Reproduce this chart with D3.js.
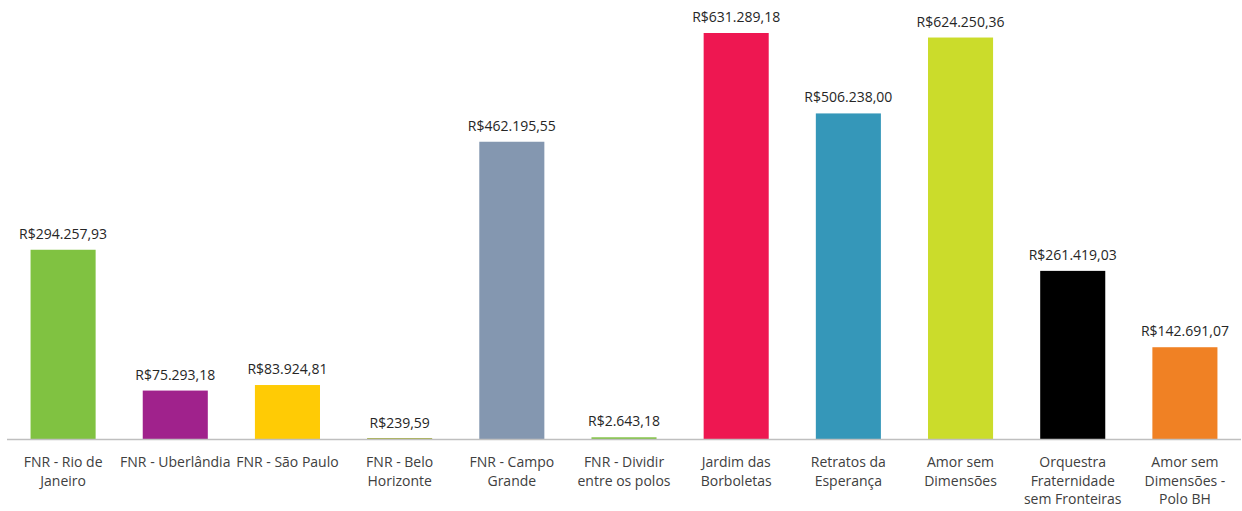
<!DOCTYPE html>
<meta charset="utf-8">
<style>
body { margin: 0; background: #fff; }
svg text { font-family: "Open Sans", "Noto Sans", sans-serif; }
</style>
<svg width="1242" height="511"></svg>
<script src="https://d3js.org/d3.v7.min.js"></script>
<script>
// categorias (quebras de linha como no original)
var categorias = [
  ["FNR - Rio de", "Janeiro"],
  ["FNR - Uberlândia"],
  ["FNR - São Paulo"],
  ["FNR - Belo", "Horizonte"],
  ["FNR - Campo", "Grande"],
  ["FNR - Dividir", "entre os polos"],
  ["Jardim das", "Borboletas"],
  ["Retratos da", "Esperança"],
  ["Amor sem", "Dimensões"],
  ["Orquestra", "Fraternidade", "sem Fronteiras"],
  ["Amor sem", "Dimensões -", "Polo BH"]
];
var valores = [294257.93, 75293.18, 83924.81, 239.59, 462195.55, 2643.18,
               631289.18, 506238.00, 624250.36, 261419.03, 142691.07];
var cores = ["#80c241", "#a0228c", "#ffcb05", "#a8b04a", "#8497b0", "#7fc241",
             "#ee1751", "#3597b9", "#cbdc2b", "#000000", "#f08124"];

var svg = d3.select("svg");
var base = 439;

var x = d3.scaleBand()
    .domain(d3.range(valores.length))
    .range([7, 1241])
    .paddingInner(0.42)
    .paddingOuter(0.21);

var y = d3.scaleLinear()
    .domain([0, 631289.18])
    .range([base, 33]);

var fmt = function(v) {
  var s = v.toFixed(2).split(".");
  return "R$" + s[0].replace(/\B(?=(\d{3})+(?!\d))/g, ".") + "," + s[1];
};

svg.append("g")
  .selectAll("rect")
  .data(valores)
  .enter()
  .append("rect")
    .attr("x", (d, i) => x(i))
    .attr("width", x.bandwidth())
    .attr("y", d => Math.min(y(d), base - 1))
    .attr("height", d => Math.max(base - y(d), 1))
    .attr("fill", (d, i) => cores[i]);

// linha do eixo
svg.append("line")
    .attr("x1", 7).attr("x2", 1241)
    .attr("y1", base + 0.5).attr("y2", base + 0.5)
    .attr("stroke", "#bfbfbf")
    .attr("stroke-width", 1.5);

// rótulos de valor
svg.append("g")
  .selectAll("text")
  .data(valores)
  .enter()
  .append("text")
    .attr("x", (d, i) => x(i) + x.bandwidth() / 2)
    .attr("y", d => y(d) - 11)
    .attr("text-anchor", "middle")
    .attr("font-size", "14px")
    .attr("fill", "#262626")
    .text(d => fmt(d));

// rótulos das categorias
var cat = svg.append("g")
  .selectAll("text")
  .data(categorias)
  .enter()
  .append("text")
    .attr("x", (d, i) => x(i) + x.bandwidth() / 2)
    .attr("y", 467)
    .attr("text-anchor", "middle")
    .attr("font-size", "14px")
    .attr("fill", "#404040");

cat.selectAll("tspan")
  .data(d => d)
  .enter()
  .append("tspan")
    .attr("x", function() { return d3.select(this.parentNode).attr("x"); })
    .attr("dy", (d, i) => i === 0 ? 0 : 18.5)
    .text(d => d);
</script>
